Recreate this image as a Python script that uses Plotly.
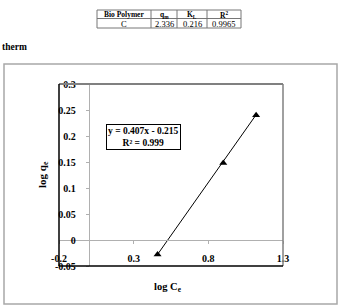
import plotly.graph_objects as go

# ---- data ----
log_ce = [0.46, 0.90, 1.12]
log_qe = [-0.028, 0.148, 0.240]
slope = 0.407
intercept = -0.215
r2 = 0.999
x_ticks = [-0.2, 0.3, 0.8, 1.3]
y_ticks = [-0.05, 0, 0.05, 0.1, 0.15, 0.2, 0.25, 0.3]

table_header = ["Bio Polymer", "q<sub>m</sub>", "K<sub>L</sub>", "R<sup>2</sup>"]
table_row = ["C", "2.336", "0.216", "0.9965"]

W, H = 343, 307
def px(x): return x / W
def py(y): return 1 - y / H

XR = [-0.2, 1.3]
YR = [-0.05, 0.3]
x0p, x1p = 59, 283
y0p, y1p = 266, 84
xdom = [px(x0p), px(x1p)]
ydom = [py(y0p), py(y1p)]
# positions of x=0 / y=0 in paper coords
xzero = xdom[0] + (0 - XR[0]) / (XR[1] - XR[0]) * (xdom[1] - xdom[0])
yzero = ydom[0] + (0 - YR[0]) / (YR[1] - YR[0]) * (ydom[1] - ydom[0])

serif = "Liberation Serif, Times New Roman, serif"

fig = go.Figure()
fit_x = [min(log_ce), max(log_ce)]
fit_y = [slope * v + intercept for v in fit_x]
fig.add_trace(go.Scatter(x=fit_x, y=fit_y, mode="lines",
                         line=dict(color="black", width=1), hoverinfo="skip"))
fig.add_trace(go.Scatter(x=log_ce, y=log_qe, mode="markers",
                         marker=dict(symbol="triangle-up", color="black", size=7)))

fig.update_layout(
    template="none",
    width=W, height=H, margin=dict(l=0, r=0, t=0, b=0, pad=0), autosize=False,
    paper_bgcolor="white", plot_bgcolor="white", showlegend=False,
    font=dict(family=serif, color="black"),
    xaxis=dict(domain=xdom, range=XR, anchor="free", position=yzero, automargin=False,
               tickvals=x_ticks, ticktext=[("%g" % v) for v in x_ticks],
               showgrid=False, zeroline=False, showline=True,
               linecolor="#b0b0b0", linewidth=1, ticks="outside", ticklen=3,
               tickcolor="#b0b0b0", ticklabelstandoff=6,
               tickfont=dict(family=serif, size=10, color="black", weight="bold")),
    yaxis=dict(domain=ydom, range=YR, anchor="free", position=xzero, automargin=False,
               tickvals=y_ticks, ticktext=[("%g" % v) for v in y_ticks],
               showgrid=False, zeroline=False, showline=True,
               linecolor="#b0b0b0", linewidth=1, ticks="outside", ticklen=3,
               tickcolor="#b0b0b0", ticklabelstandoff=8,
               tickfont=dict(family=serif, size=10, color="black", weight="bold")),
)

shapes = []
# outer chart border
shapes.append(dict(type="rect", xref="paper", yref="paper", x0=px(4), x1=px(337),
                   y0=py(304), y1=py(64), line=dict(color="#a8a8a8", width=1.5)))
# plot frame
shapes.append(dict(type="line", xref="paper", yref="paper", x0=xdom[0], x1=xdom[1],
                   y0=ydom[1], y1=ydom[1], line=dict(color="#808080", width=2)))
shapes.append(dict(type="line", xref="paper", yref="paper", x0=xdom[1], x1=xdom[1],
                   y0=ydom[0], y1=ydom[1], line=dict(color="#808080", width=1.5)))
shapes.append(dict(type="line", xref="paper", yref="paper", x0=xdom[0], x1=xdom[0],
                   y0=ydom[0], y1=ydom[1], line=dict(color="black", width=1.5)))
shapes.append(dict(type="line", xref="paper", yref="paper", x0=xdom[0], x1=xdom[1],
                   y0=ydom[0], y1=ydom[0], line=dict(color="black", width=1.5)))

# table
col_edges = [97, 151, 177, 207, 241]
row_edges = [10, 18.5, 28]
for r in row_edges:
    shapes.append(dict(type="line", xref="paper", yref="paper", x0=px(col_edges[0]),
                       x1=px(col_edges[-1]), y0=py(r), y1=py(r),
                       line=dict(color="#777777", width=1)))
for c in col_edges:
    shapes.append(dict(type="line", xref="paper", yref="paper", x0=px(c), x1=px(c),
                       y0=py(row_edges[0]), y1=py(row_edges[-1]),
                       line=dict(color="#777777", width=1)))

def ann(x, y, text, size, **kw):
    d = dict(xref="paper", yref="paper", x=px(x), y=py(y), text=text, showarrow=False,
             xanchor="center", yanchor="middle",
             font=dict(family=serif, size=size, color="black"))
    d.update(kw)
    return d

annotations = []
for i in range(4):
    cx = (col_edges[i] + col_edges[i + 1]) / 2
    annotations.append(ann(cx, (row_edges[0] + row_edges[1]) / 2 + 0.5,
                           "<b>%s</b>" % table_header[i], 7.5))
    annotations.append(ann(cx, (row_edges[1] + row_edges[2]) / 2 + 0.3,
                           table_row[i], 8.5))

annotations.append(ann(0, 47, "<b>therm</b>", 9.5, xanchor="left"))

# equation box
annotations.append(ann(143.5, 137,
                       "<b>y = %.3fx - %.3f<br>R² = %.3f</b>" % (slope, -intercept, r2),
                       9.5, bordercolor="black", borderwidth=1, borderpad=1,
                       bgcolor="white"))

# axis titles
annotations.append(ann(43, 175, "<b>log q<sub>e</sub></b>", 11, textangle=-90))
annotations.append(ann(168, 287, "<b>log C<sub>e</sub></b>", 10.5))

fig.update_layout(shapes=shapes, annotations=annotations)
fig.write_html("out.html")
